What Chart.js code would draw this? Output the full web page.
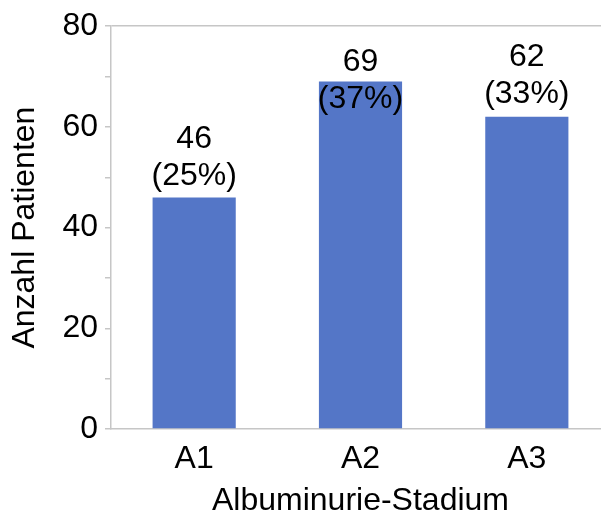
<!DOCTYPE html>
<html>
<head>
<meta charset="utf-8">
<script src="https://cdn.jsdelivr.net/npm/chart.js@4.4.1/dist/chart.umd.min.js"></script>
<style>
  html, body { margin: 0; padding: 0; background: #fff; overflow: hidden; }
  #wrap { width: 601px; height: 517px; overflow: hidden; position: relative; }
  #box { width: 620px; height: 517px; position: absolute; left: 0; top: 0; }
</style>
</head>
<body>
<div id="wrap"><div id="box"><canvas id="c"></canvas></div></div>
<script>
// Patients per albuminuria stage
const categories = ['A1', 'A2', 'A3'];
const patientCounts = [46, 69, 62];
const percentLabels = ['(25%)', '(37%)', '(33%)'];
const yTickValues = [0, 20, 40, 60, 80];

// Vertical placement of the two-line value labels (px above the bar top)
const labelLift = [21, -18, 23];

const FONT = '"Liberation Sans", Arial, sans-serif';
const FONT_SIZE = 32;
const AXIS_GRAY = '#c6c6c6';

const valueLabels = {
  id: 'valueLabels',
  afterDatasetsDraw(chart) {
    const { ctx } = chart;
    const meta = chart.getDatasetMeta(0);
    ctx.save();
    ctx.font = FONT_SIZE + 'px ' + FONT;
    ctx.fillStyle = '#000';
    ctx.textAlign = 'center';
    ctx.textBaseline = 'middle';
    meta.data.forEach((bar, i) => {
      const yLow = bar.y - labelLift[i];
      ctx.fillText(percentLabels[i], bar.x, yLow);
      ctx.fillText(String(patientCounts[i]), bar.x, yLow - 37);
    });
    ctx.restore();
  }
};

new Chart(document.getElementById('c'), {
  type: 'bar',
  data: {
    labels: categories,
    datasets: [{
      data: patientCounts,
      backgroundColor: '#5476c7',
      borderWidth: 0,
      barPercentage: 0.5,
      categoryPercentage: 1.0
    }]
  },
  options: {
    responsive: true,
    maintainAspectRatio: false,
    animation: false,
    devicePixelRatio: 1,
    layout: { padding: { top: 26, right: 10, left: 0, bottom: 0 } },
    plugins: { legend: { display: false }, tooltip: { enabled: false } },
    scales: {
      x: {
        offset: true,
        grid: { display: false, drawTicks: false },
        border: { display: true, color: AXIS_GRAY, width: 1.5 },
        ticks: { color: '#000', font: { family: FONT, size: FONT_SIZE }, padding: 11 },
        title: {
          display: true, text: 'Albuminurie-Stadium', color: '#000',
          font: { family: FONT, size: FONT_SIZE, lineHeight: 1 }, padding: { top: 0, bottom: 0 }
        },
        afterFit(s) { s.height = 88; }
      },
      y: {
        min: 0, max: 80,
        afterBuildTicks(s) {
          const t = [];
          for (let v = 0; v <= 80; v += 10) t.push({ value: v });
          s.ticks = t;
        },
        grid: {
          drawOnChartArea: true,
          color: c => (c.tick && c.tick.value === 80 ? AXIS_GRAY : 'rgba(0,0,0,0)'),
          lineWidth: 1.5,
          tickColor: AXIS_GRAY,
          tickLength: 6
        },
        border: { display: true, color: AXIS_GRAY, width: 1.5 },
        ticks: {
          color: '#000', font: { family: FONT, size: FONT_SIZE }, padding: 7,
          callback: v => (yTickValues.includes(v) ? String(v) : '')
        },
        title: {
          display: true, text: 'Anzahl Patienten', color: '#000',
          font: { family: FONT, size: FONT_SIZE, lineHeight: 1 }, padding: { top: 9, bottom: 0 }
        },
        afterFit(s) { s.width = 111; }
      }
    }
  },
  plugins: [valueLabels]
});
</script>
</body>
</html>
